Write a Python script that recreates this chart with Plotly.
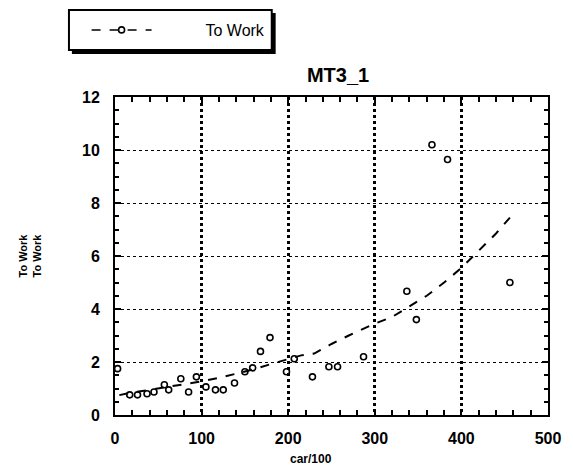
import plotly.graph_objects as go

# observed points
pts_x = [3, 17, 26, 37, 45, 57, 62, 76, 85, 94, 105, 116, 125, 138, 150, 159, 168, 179,
         198, 207, 228, 247, 257, 287, 337, 348, 366, 384, 456]
pts_y = [1.75, 0.76, 0.76, 0.80, 0.87, 1.14, 0.95, 1.37, 0.87, 1.44, 1.06, 0.95, 0.95, 1.21,
         1.63, 1.78, 2.40, 2.92, 1.63, 2.12, 1.44, 1.82, 1.82, 2.20, 4.67, 3.60, 10.2, 9.64, 5.0]

# fitted curve
line_x = [5, 20, 40, 60, 80, 100, 120, 140, 160, 180, 200, 215, 230, 250, 270, 290, 300,
          320, 340, 360, 380, 400, 420, 440, 456]
line_y = [0.75, 0.85, 0.95, 1.05, 1.15, 1.27, 1.40, 1.55, 1.72, 1.92, 2.12, 2.25, 2.32, 2.68,
          3.00, 3.30, 3.45, 3.70, 4.10, 4.50, 5.00, 5.55, 6.20, 6.85, 7.45]

x_ticks = [0, 100, 200, 300, 400, 500]
y_ticks = [0, 2, 4, 6, 8, 10, 12]

FONT = "Liberation Sans"

# pixel helpers for paper coordinates (plot area: x 115..557, y 97..415)
L, R, T, B = 115, 557, 97, 415

def px(p):
    return (p - L) / (R - L)

def py(p):
    return (B - p) / (B - T)

fig = go.Figure()
fig.add_trace(go.Scatter(
    x=line_x, y=line_y, mode="lines", showlegend=False,
    line=dict(color="black", width=2, dash="dash"), hoverinfo="skip"))
fig.add_trace(go.Scatter(
    x=pts_x, y=pts_y, mode="markers", showlegend=False,
    marker=dict(symbol="circle-open", size=6, color="black", line=dict(width=1.6))))
# legend entry
fig.add_trace(go.Scatter(
    x=[None], y=[None], mode="lines+markers",
    name="\u00a0" * 11 + "To Work",
    line=dict(color="black", width=1.5, dash="dash"),
    marker=dict(symbol="circle-open", size=6, color="black", line=dict(width=1.6))))

axis_common = dict(
    showline=True, linecolor="black", linewidth=2, mirror="allticks",
    ticks="inside", ticklen=6, tickwidth=2, tickcolor="black",
    tickfont=dict(family=FONT, size=16, color="black", weight="bold"),
    zeroline=False, gridcolor="black",
)

fig.update_layout(
    width=573, height=468,
    margin=dict(l=L, r=573 - R, t=T, b=468 - B),
    paper_bgcolor="white", plot_bgcolor="white",
    title=dict(text="MT3_1", x=(338 / 573), xanchor="center", y=1 - 75 / 468, yanchor="middle",
               font=dict(family=FONT, size=20, color="black", weight="bold")),
    xaxis=dict(axis_common, range=[0, 500], tickvals=x_ticks, showgrid=True,
               griddash="dot", gridwidth=2.5, ticklabelstandoff=8,
               minor=dict(dtick=20, ticks="inside", ticklen=5, tickwidth=2, tickcolor="black",
                          showgrid=False)),
    yaxis=dict(axis_common, range=[0, 12], tickvals=y_ticks, showgrid=True,
               griddash="dot", gridwidth=1, ticklabelstandoff=10,
               minor=dict(dtick=0.5, ticks="inside", ticklen=4, tickwidth=2, tickcolor="black",
                          showgrid=False),
               title=dict(text="To Work<br>To Work", standoff=38,
                          font=dict(family=FONT, size=11, color="black", weight="bold"))),
    showlegend=True,
    legend=dict(x=px(86), y=py(30), xanchor="left", yanchor="middle",
                bgcolor="rgba(0,0,0,0)", borderwidth=0,
                itemwidth=60,
                font=dict(family=FONT, size=16, color="black")),
    annotations=[dict(text="car/100", xref="paper", yref="paper",
                      x=px(315), y=py(459), showarrow=False,
                      xanchor="center", yanchor="middle",
                      font=dict(family=FONT, size=12, color="black", weight="bold"))],
    shapes=[
        # legend shadow
        dict(type="rect", xref="paper", yref="paper", layer="below",
             x0=px(71), x1=px(279), y0=py(54), y1=py(13),
             fillcolor="black", line=dict(width=0)),
        # legend box
        dict(type="rect", xref="paper", yref="paper", layer="below",
             x0=px(68), x1=px(275), y0=py(50), y1=py(10),
             fillcolor="white", line=dict(color="black", width=2)),
    ],
)

fig.write_html("out.html")
